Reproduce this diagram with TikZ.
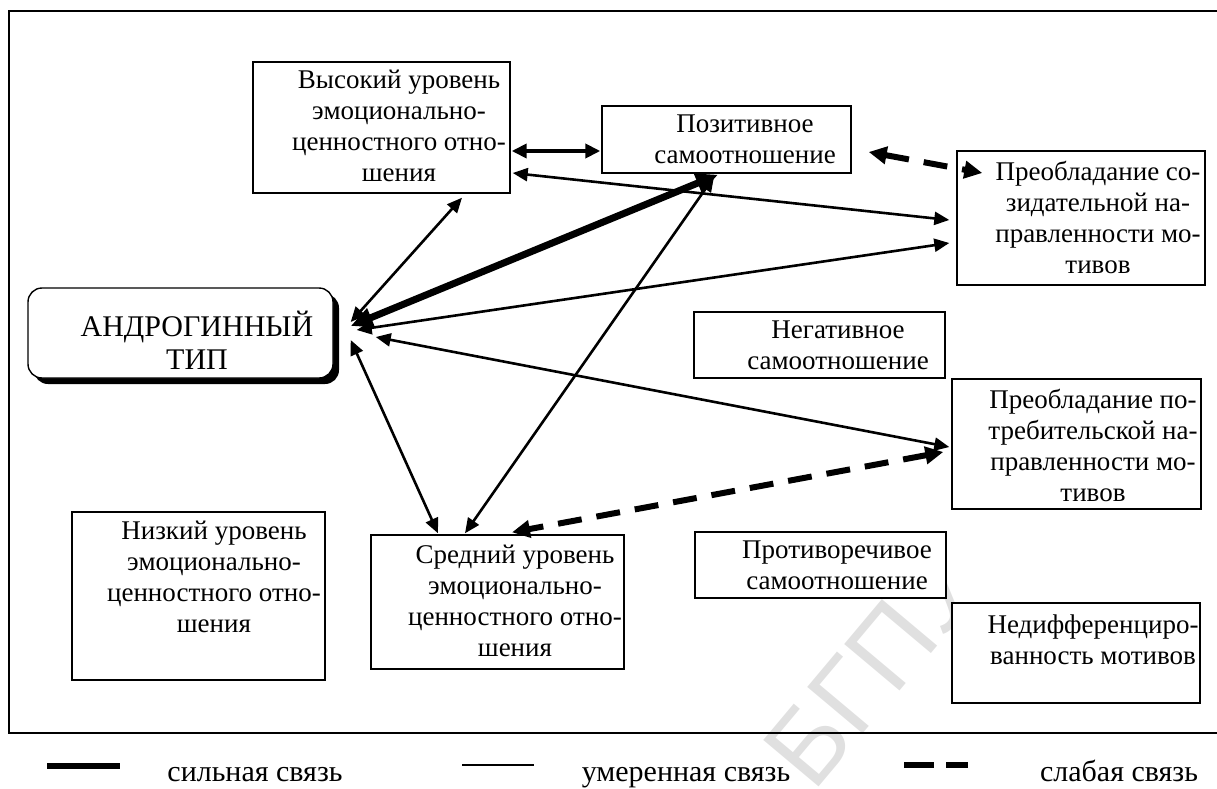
\documentclass[tikz,border=0pt]{standalone}
\usepackage{fontspec}
\setmainfont{Liberation Serif}
\newfontfamily\wmfont{Liberation Sans}
\usetikzlibrary{arrows.meta,calc,shadows}
\tikzset{
  box/.style={draw, line width=1.4pt, fill=white, inner sep=0pt},
  txt/.style={align=center, inner sep=0pt, font=\fontsize{27}{31}\selectfont},
  legtxt/.style={anchor=base, inner sep=0pt, font=\fontsize{30}{34}\selectfont},
  mod/.style={line width=2.6pt, >={Triangle[length=15pt,width=13pt]}, <->},
  midarrow/.style={line width=3.8pt, >={Triangle[length=15pt,width=14pt]}, <->},
  strong/.style={line width=7pt, >={Triangle[length=22pt,width=19pt]}, <->},
  weak/.style={line width=6pt, dash pattern=on 24pt off 15pt, >={Triangle[length=18pt,width=17pt]}, <->},
}
\begin{document}
\begin{tikzpicture}[x=1pt,y=-1pt]
\useasboundingbox (0,0) rectangle (1217,789);
% watermark
\node[rotate=50, text=black!12, font=\wmfont\fontsize{105}{105}\selectfont, inner sep=0pt] (wm) at (872,668) {БГПУ};
% frame
\draw[line width=2.5pt] (1217,11) -- (9,11) -- (9,733) -- (1217,733);
% boxes
\node[box, minimum width=257pt, minimum height=131pt] (hi) at (381.5,127.5) {};
\node[box, minimum width=249pt, minimum height=67pt] (pos) at (726.5,139.5) {};
\node[box, minimum width=248pt, minimum height=134pt] (cre) at (1081,218) {};
\node[box, rounded corners=14pt, minimum width=305pt, minimum height=90pt,
      drop shadow={shadow xshift=6pt, shadow yshift=-6pt, fill=black, opacity=1}] (andro) at (180.5,333) {};
\node[box, minimum width=251pt, minimum height=66pt] (neg) at (819.5,345) {};
\node[box, minimum width=249pt, minimum height=130pt] (con) at (1076.5,444) {};
\node[box, minimum width=253pt, minimum height=168pt] (low) at (198.5,596) {};
\node[box, minimum width=253pt, minimum height=134pt] (mid) at (497.5,602) {};
\node[box, minimum width=251pt, minimum height=66pt] (contr) at (820.5,565) {};
\node[box, minimum width=248pt, minimum height=100pt] (undiff) at (1076,653) {};
% texts
\node[txt] (hit) at (399,126) {Высокий уровень\\эмоционально-\\ценностного отно-\\шения};
\node[txt] (post) at (745,139) {Позитивное\\самоотношение};
\node[txt] (cret) at (1098,217) {Преобладание со-\\зидательной на-\\правленности мо-\\тивов};
\node[txt, font=\fontsize{30}{33}\selectfont] (androt) at (197,340) {АНДРОГИННЫЙ\\ТИП};
\node[txt] (negt) at (838,345) {Негативное\\самоотношение};
\node[txt] (cont) at (1093,445) {Преобладание по-\\требительской на-\\правленности мо-\\тивов};
\node[txt] (lowt) at (214,577) {Низкий уровень\\эмоционально-\\ценностного отно-\\шения};
\node[txt] (midt) at (515,601) {Средний уровень\\эмоционально-\\ценностного отно-\\шения};
\node[txt] (contrt) at (837,565) {Противоречивое\\самоотношение};
\node[txt] (undifft) at (1093,640) {Недифференциро-\\ванность мотивов};
% connectors
\draw[midarrow] ($(hi.east)+(1,23.5)$) -- ($(pos.west)+(-1,11.5)$);
\draw[mod] ($(hi.east)+(2,45.5)$) -- ($(cre.west)+(-7,2)$);
\draw[mod] ($(andro.east)+(17,-11)$) -- ($(hi.south)+(80.5,4)$);
\draw[strong] ($(andro.east)+(17,-7)$) -- ($(pos.south)+(-8.5,1)$);
\draw[mod] ($(andro.east)+(23,-3)$) -- ($(cre.west)+(-7,25)$);
\draw[mod] ($(andro.east)+(42,4)$) -- ($(con.west)+(-2,3)$);
\draw[mod] ($(andro.east)+(17,7)$) -- ($(mid.north)+(-59.5,-1)$);
\draw[mod] ($(pos.south)+(-12.5,3)$) -- ($(mid.north)+(-32.5,-1)$);
\draw[weak] ($(con.west)+(-8,8)$) -- ($(mid.north)+(14.5,-2)$);
\draw[weak] ($(pos.east)+(17,12.5)$) -- ($(cre.west)+(26,-45)$);
% legend
\draw[line width=6pt] (47,766) -- (120,766);
\node[legtxt] (l1) at (255,781) {сильная связь};
\draw[line width=2.2pt] (462,765) -- (534,765);
\node[legtxt] (l2) at (686,781) {умеренная связь};
\draw[line width=6pt] (904,765) -- (934,765);
\draw[line width=6pt] (946,765) -- (968,765);
\node[legtxt] (l3) at (1119,781) {слабая связь};
\end{tikzpicture}
\end{document}
